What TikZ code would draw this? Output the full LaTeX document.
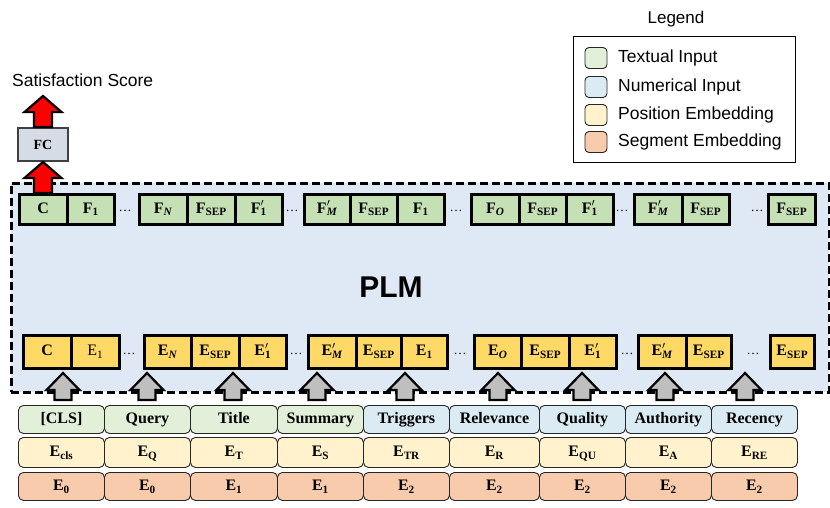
\documentclass[tikz,border=0pt]{standalone}
\usepackage{fontspec}
\setmainfont{Liberation Serif}
\newfontfamily\arialf{Liberation Sans}
\definecolor{fgreen}{HTML}{C5E0B4}
\definecolor{egold}{HTML}{FFD966}
\definecolor{txtin}{HTML}{E2F0D9}
\definecolor{numin}{HTML}{DBEBF3}
\definecolor{posemb}{HTML}{FFF2CC}
\definecolor{segemb}{HTML}{F8CBAD}
\definecolor{plmfill}{HTML}{DEE9F5}
\definecolor{fcfill}{HTML}{D6DCE5}
\definecolor{garrowfill}{HTML}{BFBFBF}
\newcommand{\sbs}[1]{\textsubscript{#1}}
\newcommand{\prm}[2]{#1\rlap{$'$}\textsubscript{#2}}
\begin{document}
\begin{tikzpicture}[x=1pt,y=-1pt,
  cellfont/.style={font=\bfseries\fontsize{16}{16}\selectfont, text height=11pt, text depth=3pt},
  fcell/.style={draw=black, line width=2.5pt, fill=fgreen, inner sep=0pt, anchor=north west, cellfont},
  ecell/.style={draw=black, line width=2.5pt, fill=egold, inner sep=0pt, anchor=north west, cellfont},
  incell/.style={draw=black!85, line width=0.9pt, rounded corners=5pt, inner sep=0pt, anchor=north west, cellfont},
  dotsnode/.style={font=\fontsize{13}{13}\selectfont, inner sep=0pt},
  garrow/.style={draw=black, line width=2.2pt, fill=garrowfill, line join=miter},
  rarrow/.style={draw=black, line width=2.2pt, fill=red, line join=miter},
  swatch/.style={draw=black!85, line width=0.9pt, rounded corners=4pt, minimum width=22pt, minimum height=21pt, inner sep=0pt},
  legtext/.style={font=\arialf\fontsize{17.5}{17.5}\selectfont, anchor=west, inner sep=0pt},
  pics/grayup/.style={code={\draw[garrow] (-8.5,0) -- (-8.5,-10) -- (-16.5,-10) -- (0,-27) -- (16.5,-10) -- (8.5,-10) -- (8.5,0) -- cycle;}},
  pics/redup/.style={code={\draw[rarrow] (-9,0) -- (-9,-#1) -- (-18.5,-#1) -- (0,-#1-16) -- (18.5,-#1) -- (9,-#1) -- (9,0) -- cycle;}}
]
\useasboundingbox (0,0) rectangle (830,507);

% PLM container
\node[draw=black, line width=2.6pt, dash pattern=on 8pt off 4pt, fill=plmfill, anchor=north west, minimum width=818pt, minimum height=209pt, inner sep=0pt] (plm) at (10,182) {};
\node[font=\arialf\bfseries\fontsize{30}{30}\selectfont, inner sep=0pt] (plmlabel) at (391,287) {PLM};

% F row
\foreach \n/\a/\b/\t in {
  f1/18/66/{C}, f2/66/113/{F\sbs{1}},
  f3/138/186/{F\sbs{\textit{N}}}, f4/186/234/{F\sbs{SEP}}, f5/234/281/{\prm{F}{1}},
  f6/303/349/{\prm{F}{\textit{M}}}, f7/349/396/{F\sbs{SEP}}, f8/396/443/{F\sbs{1}},
  f9/470/518/{F\sbs{\textit{O}}}, f10/518/565/{F\sbs{SEP}}, f11/565/612/{\prm{F}{1}},
  f12/633/681/{\prm{F}{\textit{M}}}, f13/681/728/{F\sbs{SEP}},
  f14/767/814/{F\sbs{SEP}}}
  \node[fcell, minimum width={(\b-\a)*1pt}, minimum height=30pt] (\n) at (\a,193) {\t};
\foreach \n/\x in {fd1/125, fd2/292, fd3/456, fd4/622, fd5/757}
  \node[dotsnode] (\n) at (\x,211) {\ldots};

% E row
\foreach \n/\a/\b/\t in {
  e1/22/70/{C}, e2/70/118/{\mdseries E\sbs{1}},
  e3/143/190/{E\sbs{\textit{N}}}, e4/190/238/{E\sbs{SEP}}, e5/238/285/{\prm{E}{1}},
  e6/307/355/{\prm{E}{\textit{M}}}, e7/355/400/{E\sbs{SEP}}, e8/400/446/{E\sbs{1}},
  e9/473/520/{E\sbs{\textit{O}}}, e10/520/568/{E\sbs{SEP}}, e11/568/615/{\prm{E}{1}},
  e12/637/685/{\prm{E}{\textit{M}}}, e13/685/730/{E\sbs{SEP}},
  e14/769/813/{E\sbs{SEP}}}
  \node[ecell, minimum width={(\b-\a)*1pt}, minimum height=33pt] (\n) at (\a,334) {\t};
\foreach \n/\x in {ed1/129, ed2/296, ed3/460, ed4/627, ed5/753}
  \node[dotsnode] (\n) at (\x,354) {\ldots};

% input rows
\foreach \n/\a/\b/\c/\t in {
  i1/18/104/txtin/{[CLS]}, i2/104/190/txtin/{Query}, i3/190/277/txtin/{Title},
  i4/277/363/txtin/{Summary}, i5/363/449/numin/{Triggers}, i6/449/539/numin/{Relevance},
  i7/539/625/numin/{Quality}, i8/625/711/numin/{Authority}, i9/711/797/numin/{Recency}}
  \node[incell, fill=\c, minimum width={(\b-\a)*1pt}, minimum height=28pt] (\n) at (\a,405) {\t};
\foreach \n/\a/\b/\t in {
  p1/18/104/{E\sbs{cls}}, p2/104/190/{E\sbs{Q}}, p3/190/277/{E\sbs{T}},
  p4/277/363/{E\sbs{S}}, p5/363/449/{E\sbs{TR}}, p6/449/539/{E\sbs{R}},
  p7/539/625/{E\sbs{QU}}, p8/625/711/{E\sbs{A}}, p9/711/797/{E\sbs{RE}}}
  \node[incell, fill=posemb, minimum width={(\b-\a)*1pt}, minimum height=30pt] (\n) at (\a,437) {\t};
\foreach \n/\a/\b/\t in {
  s1/18/104/{E\sbs{0}}, s2/104/190/{E\sbs{0}}, s3/190/277/{E\sbs{1}},
  s4/277/363/{E\sbs{1}}, s5/363/449/{E\sbs{2}}, s6/449/539/{E\sbs{2}},
  s7/539/625/{E\sbs{2}}, s8/625/711/{E\sbs{2}}, s9/711/797/{E\sbs{2}}}
  \node[incell, fill=segemb, minimum width={(\b-\a)*1pt}, minimum height=28pt] (\n) at (\a,472) {\t};

% gray arrows (input -> embeddings)
\foreach \x in {63,147,233,317,405,498,582,665,745}
  \pic at (\x,400) {grayup};

% FC and output
\node[draw=black!75, line width=2pt, fill=fcfill, anchor=north west, minimum width=50pt, minimum height=33pt, inner sep=0pt, font=\bfseries\fontsize{14}{14}\selectfont] (fc) at (17,127) {FC};
\pic at (43,193) {redup=15};
\pic at (43,127) {redup=15};
\node[font=\arialf\fontsize{17.5}{17.5}\selectfont, anchor=west, inner sep=0pt] (score) at (12,80) {Satisfaction Score};

% legend
\node[font=\arialf\fontsize{17}{17}\selectfont, inner sep=0pt] (legtitle) at (676,19) {Legend};
\node[draw=black, line width=0.9pt, anchor=north west, minimum width=222pt, minimum height=126pt, inner sep=0pt] (legbox) at (573,36) {};
\foreach \n/\y/\c/\t in {l1/58/txtin/{Textual Input}, l2/87/numin/{Numerical Input}, l3/115/posemb/{Position Embedding}, l4/142/segemb/{Segment Embedding}} {
  \node[swatch, fill=\c] (\n) at (596,\y) {};
  \node[legtext] (\n t) at (618,\y) {\t};
}
\end{tikzpicture}
\end{document}
